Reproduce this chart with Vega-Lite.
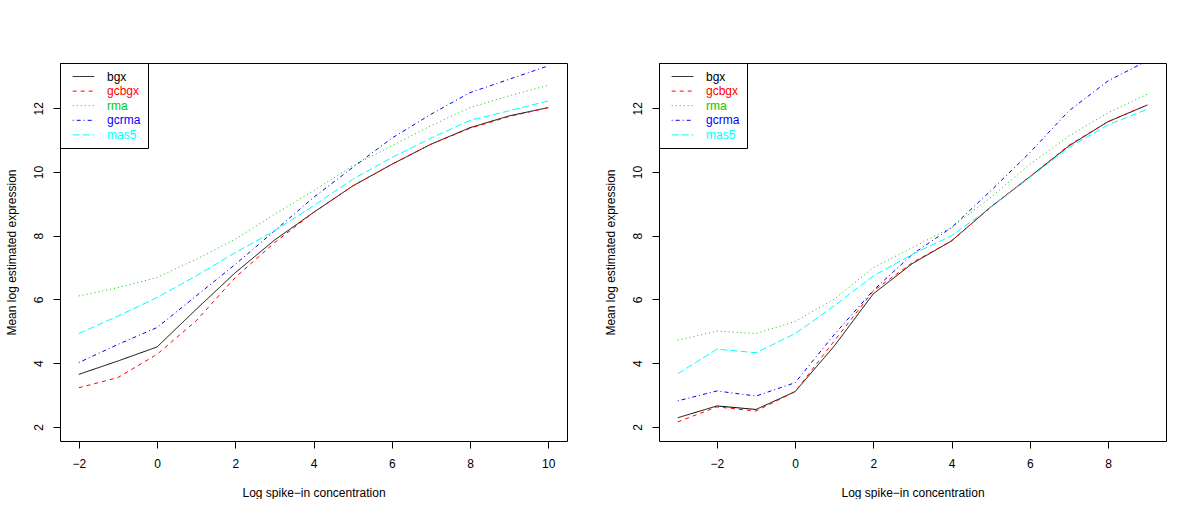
{
  "$schema": "https://vega.github.io/schema/vega-lite/v6.json",
  "background": "white",
  "padding": {"left": 4, "top": 62, "right": 0, "bottom": 0},
  "spacing": 35,
  "config": {
    "font": "Liberation Sans",
    "view": {"stroke": "black", "strokeWidth": 1},
    "axis": {
      "grid": false, "domain": false, "tickColor": "black", "tickSize": 7, "tickWidth": 1,
      "labelFont": "Liberation Sans", "labelFontSize": 12, "labelColor": "black",
      "titleFont": "Liberation Sans", "titleFontSize": 12, "titleFontWeight": "normal", "titleColor": "black"
    },
    "axisX": {"labelPadding": 10, "titlePadding": 18},
    "axisY": {"labelAngle": -90, "labelAlign": "center", "labelBaseline": "bottom", "labelPadding": 8, "titlePadding": 14},
    "legend": {
      "title": null, "orient": "top-left", "offset": 0, "padding": 7, "rowPadding": 1.6,
      "strokeColor": "black", "fillColor": "white", "labelFont": "Liberation Sans", "labelFontSize": 12,
      "labelOffset": 17, "symbolOffset": 10, "symbolType": "M-1.8,0H1.8", "symbolSize": 144, "symbolStrokeWidth": 1
    }
  },
  "datasets": {
    "p1": [
      {"conc": -2, "expr": 3.65, "method": "bgx"}, {"conc": -1, "expr": 4.07, "method": "bgx"}, {"conc": 0, "expr": 4.51, "method": "bgx"}, {"conc": 1, "expr": 5.69, "method": "bgx"}, {"conc": 2, "expr": 6.84, "method": "bgx"}, {"conc": 3, "expr": 7.86, "method": "bgx"}, {"conc": 4, "expr": 8.73, "method": "bgx"}, {"conc": 5, "expr": 9.56, "method": "bgx"}, {"conc": 6, "expr": 10.24, "method": "bgx"}, {"conc": 7, "expr": 10.87, "method": "bgx"}, {"conc": 8, "expr": 11.39, "method": "bgx"}, {"conc": 9, "expr": 11.76, "method": "bgx"}, {"conc": 10, "expr": 12.02, "method": "bgx"},
      {"conc": -2, "expr": 3.23, "method": "gcbgx"}, {"conc": -1, "expr": 3.55, "method": "gcbgx"}, {"conc": 0, "expr": 4.28, "method": "gcbgx"}, {"conc": 1, "expr": 5.33, "method": "gcbgx"}, {"conc": 2, "expr": 6.69, "method": "gcbgx"}, {"conc": 3, "expr": 7.78, "method": "gcbgx"}, {"conc": 4, "expr": 8.73, "method": "gcbgx"}, {"conc": 5, "expr": 9.56, "method": "gcbgx"}, {"conc": 6, "expr": 10.24, "method": "gcbgx"}, {"conc": 7, "expr": 10.87, "method": "gcbgx"}, {"conc": 8, "expr": 11.37, "method": "gcbgx"}, {"conc": 9, "expr": 11.74, "method": "gcbgx"}, {"conc": 10, "expr": 12.02, "method": "gcbgx"},
      {"conc": -2, "expr": 6.11, "method": "rma"}, {"conc": -1, "expr": 6.37, "method": "rma"}, {"conc": 0, "expr": 6.69, "method": "rma"}, {"conc": 1, "expr": 7.26, "method": "rma"}, {"conc": 2, "expr": 7.89, "method": "rma"}, {"conc": 3, "expr": 8.67, "method": "rma"}, {"conc": 4, "expr": 9.41, "method": "rma"}, {"conc": 5, "expr": 10.19, "method": "rma"}, {"conc": 6, "expr": 10.82, "method": "rma"}, {"conc": 7, "expr": 11.45, "method": "rma"}, {"conc": 8, "expr": 12.02, "method": "rma"}, {"conc": 9, "expr": 12.39, "method": "rma"}, {"conc": 10, "expr": 12.72, "method": "rma"},
      {"conc": -2, "expr": 4.02, "method": "gcrma"}, {"conc": -1, "expr": 4.59, "method": "gcrma"}, {"conc": 0, "expr": 5.12, "method": "gcrma"}, {"conc": 1, "expr": 6.11, "method": "gcrma"}, {"conc": 2, "expr": 7.10, "method": "gcrma"}, {"conc": 3, "expr": 8.15, "method": "gcrma"}, {"conc": 4, "expr": 9.20, "method": "gcrma"}, {"conc": 5, "expr": 10.14, "method": "gcrma"}, {"conc": 6, "expr": 11.06, "method": "gcrma"}, {"conc": 7, "expr": 11.81, "method": "gcrma"}, {"conc": 8, "expr": 12.49, "method": "gcrma"}, {"conc": 9, "expr": 12.91, "method": "gcrma"}, {"conc": 10, "expr": 13.33, "method": "gcrma"},
      {"conc": -2, "expr": 4.93, "method": "mas5"}, {"conc": -1, "expr": 5.48, "method": "mas5"}, {"conc": 0, "expr": 6.06, "method": "mas5"}, {"conc": 1, "expr": 6.74, "method": "mas5"}, {"conc": 2, "expr": 7.47, "method": "mas5"}, {"conc": 3, "expr": 8.15, "method": "mas5"}, {"conc": 4, "expr": 8.94, "method": "mas5"}, {"conc": 5, "expr": 9.77, "method": "mas5"}, {"conc": 6, "expr": 10.45, "method": "mas5"}, {"conc": 7, "expr": 11.06, "method": "mas5"}, {"conc": 8, "expr": 11.62, "method": "mas5"}, {"conc": 9, "expr": 11.92, "method": "mas5"}, {"conc": 10, "expr": 12.23, "method": "mas5"}
    ],
    "p2": [
      {"conc": -3, "expr": 2.29, "method": "bgx"}, {"conc": -2, "expr": 2.66, "method": "bgx"}, {"conc": -1, "expr": 2.55, "method": "bgx"}, {"conc": 0, "expr": 3.11, "method": "bgx"}, {"conc": 1, "expr": 4.54, "method": "bgx"}, {"conc": 2, "expr": 6.18, "method": "bgx"}, {"conc": 3, "expr": 7.13, "method": "bgx"}, {"conc": 4, "expr": 7.84, "method": "bgx"}, {"conc": 5, "expr": 8.90, "method": "bgx"}, {"conc": 6, "expr": 9.85, "method": "bgx"}, {"conc": 7, "expr": 10.82, "method": "bgx"}, {"conc": 8, "expr": 11.58, "method": "bgx"}, {"conc": 9, "expr": 12.10, "method": "bgx"},
      {"conc": -3, "expr": 2.16, "method": "gcbgx"}, {"conc": -2, "expr": 2.63, "method": "gcbgx"}, {"conc": -1, "expr": 2.50, "method": "gcbgx"}, {"conc": 0, "expr": 3.11, "method": "gcbgx"}, {"conc": 1, "expr": 4.70, "method": "gcbgx"}, {"conc": 2, "expr": 6.27, "method": "gcbgx"}, {"conc": 3, "expr": 7.16, "method": "gcbgx"}, {"conc": 4, "expr": 7.84, "method": "gcbgx"}, {"conc": 5, "expr": 8.90, "method": "gcbgx"}, {"conc": 6, "expr": 9.85, "method": "gcbgx"}, {"conc": 7, "expr": 10.84, "method": "gcbgx"}, {"conc": 8, "expr": 11.58, "method": "gcbgx"}, {"conc": 9, "expr": 12.10, "method": "gcbgx"},
      {"conc": -3, "expr": 4.72, "method": "rma"}, {"conc": -2, "expr": 5.01, "method": "rma"}, {"conc": -1, "expr": 4.93, "method": "rma"}, {"conc": 0, "expr": 5.31, "method": "rma"}, {"conc": 1, "expr": 6.01, "method": "rma"}, {"conc": 2, "expr": 7.00, "method": "rma"}, {"conc": 3, "expr": 7.63, "method": "rma"}, {"conc": 4, "expr": 8.26, "method": "rma"}, {"conc": 5, "expr": 9.20, "method": "rma"}, {"conc": 6, "expr": 10.24, "method": "rma"}, {"conc": 7, "expr": 11.13, "method": "rma"}, {"conc": 8, "expr": 11.86, "method": "rma"}, {"conc": 9, "expr": 12.44, "method": "rma"},
      {"conc": -3, "expr": 2.82, "method": "gcrma"}, {"conc": -2, "expr": 3.13, "method": "gcrma"}, {"conc": -1, "expr": 2.97, "method": "gcrma"}, {"conc": 0, "expr": 3.39, "method": "gcrma"}, {"conc": 1, "expr": 4.90, "method": "gcrma"}, {"conc": 2, "expr": 6.29, "method": "gcrma"}, {"conc": 3, "expr": 7.42, "method": "gcrma"}, {"conc": 4, "expr": 8.26, "method": "gcrma"}, {"conc": 5, "expr": 9.41, "method": "gcrma"}, {"conc": 6, "expr": 10.61, "method": "gcrma"}, {"conc": 7, "expr": 11.92, "method": "gcrma"}, {"conc": 8, "expr": 12.86, "method": "gcrma"}, {"conc": 9, "expr": 13.49, "method": "gcrma"},
      {"conc": -3, "expr": 3.67, "method": "mas5"}, {"conc": -2, "expr": 4.44, "method": "mas5"}, {"conc": -1, "expr": 4.33, "method": "mas5"}, {"conc": 0, "expr": 4.93, "method": "mas5"}, {"conc": 1, "expr": 5.80, "method": "mas5"}, {"conc": 2, "expr": 6.74, "method": "mas5"}, {"conc": 3, "expr": 7.42, "method": "mas5"}, {"conc": 4, "expr": 8.00, "method": "mas5"}, {"conc": 5, "expr": 8.89, "method": "mas5"}, {"conc": 6, "expr": 9.83, "method": "mas5"}, {"conc": 7, "expr": 10.77, "method": "mas5"}, {"conc": 8, "expr": 11.48, "method": "mas5"}, {"conc": 9, "expr": 11.97, "method": "mas5"}
    ]
  },
  "hconcat": [
    {
      "data": {"name": "p1"},
      "width": 507, "height": 378,
      "mark": {"type": "line", "clip": true, "strokeWidth": 1},
      "encoding": {
        "x": {"field": "conc", "type": "quantitative", "scale": {"domain": [-2.48, 10.48], "nice": false, "zero": false}, "axis": {"values": [-2, 0, 2, 4, 6, 8, 10], "title": "Log spike−in concentration"}},
        "y": {"field": "expr", "type": "quantitative", "scale": {"domain": [1.56, 13.42], "nice": false, "zero": false}, "axis": {"values": [2, 4, 6, 8, 10, 12], "title": "Mean log estimated expression"}},
        "color": {"field": "method", "type": "nominal", "sort": ["bgx", "gcbgx", "rma", "gcrma", "mas5"], "scale": {"domain": ["bgx", "gcbgx", "rma", "gcrma", "mas5"], "range": ["#000000", "#FF0000", "#00CD00", "#0000FF", "#00FFFF"]}, "legend": {"encode": {"labels": {"update": {"fill": {"signal": "datum.value === 'gcbgx' ? '#FF0000' : datum.value === 'rma' ? '#00CD00' : datum.value === 'gcrma' ? '#0000FF' : datum.value === 'mas5' ? '#00FFFF' : '#000000'"}}}, "symbols": {"update": {"stroke": {"signal": "datum.value === 'gcbgx' ? '#FF0000' : datum.value === 'rma' ? '#00CD00' : datum.value === 'gcrma' ? '#0000FF' : datum.value === 'mas5' ? '#00FFFF' : '#000000'"}}}}}},
        "strokeDash": {"field": "method", "type": "nominal", "sort": ["bgx", "gcbgx", "rma", "gcrma", "mas5"], "scale": {"domain": ["bgx", "gcbgx", "rma", "gcrma", "mas5"], "range": [[1, 0], [4, 4], [1, 3], [1, 3, 4, 3], [7, 3]]}}
      }
    },
    {
      "data": {"name": "p2"},
      "width": 507, "height": 378,
      "mark": {"type": "line", "clip": true, "strokeWidth": 1},
      "encoding": {
        "x": {"field": "conc", "type": "quantitative", "scale": {"domain": [-3.48, 9.48], "nice": false, "zero": false}, "axis": {"values": [-2, 0, 2, 4, 6, 8], "title": "Log spike−in concentration"}},
        "y": {"field": "expr", "type": "quantitative", "scale": {"domain": [1.56, 13.42], "nice": false, "zero": false}, "axis": {"values": [2, 4, 6, 8, 10, 12], "title": "Mean log estimated expression"}},
        "color": {"field": "method", "type": "nominal", "sort": ["bgx", "gcbgx", "rma", "gcrma", "mas5"], "scale": {"domain": ["bgx", "gcbgx", "rma", "gcrma", "mas5"], "range": ["#000000", "#FF0000", "#00CD00", "#0000FF", "#00FFFF"]}, "legend": {"encode": {"labels": {"update": {"fill": {"signal": "datum.value === 'gcbgx' ? '#FF0000' : datum.value === 'rma' ? '#00CD00' : datum.value === 'gcrma' ? '#0000FF' : datum.value === 'mas5' ? '#00FFFF' : '#000000'"}}}, "symbols": {"update": {"stroke": {"signal": "datum.value === 'gcbgx' ? '#FF0000' : datum.value === 'rma' ? '#00CD00' : datum.value === 'gcrma' ? '#0000FF' : datum.value === 'mas5' ? '#00FFFF' : '#000000'"}}}}}},
        "strokeDash": {"field": "method", "type": "nominal", "sort": ["bgx", "gcbgx", "rma", "gcrma", "mas5"], "scale": {"domain": ["bgx", "gcbgx", "rma", "gcrma", "mas5"], "range": [[1, 0], [4, 4], [1, 3], [1, 3, 4, 3], [7, 3]]}}
      }
    }
  ],
  "resolve": {"scale": {"x": "independent", "y": "independent", "color": "independent", "strokeDash": "independent"}, "legend": {"color": "independent", "strokeDash": "independent"}}
}
